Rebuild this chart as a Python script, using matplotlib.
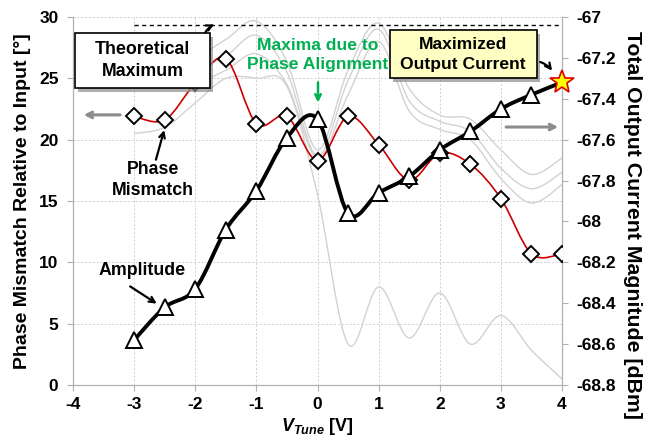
import numpy as np
import matplotlib
matplotlib.use("Agg")
from matplotlib import pyplot as plt
from matplotlib.path import Path
import matplotlib.patches as patches

plt.rcParams['font.family'] = ['Liberation Sans', 'DejaVu Sans']
plt.rcParams['font.weight'] = 'bold'
plt.rcParams['axes.unicode_minus'] = False
plt.rcParams['mathtext.fontset'] = 'custom'
plt.rcParams['mathtext.it'] = 'Liberation Sans:italic:bold'
plt.rcParams['mathtext.rm'] = 'Liberation Sans:bold'

# data
v_tune = [-3, -2.5, -2, -1.5, -1, -0.5, 0, 0.5, 1, 1.5, 2, 2.5, 3, 3.5, 4]
phase_mismatch = [21.9, 21.6, 24.6, 26.6, 21.3, 21.9, 18.3, 21.9, 19.6, 16.7, 18.9, 18.0, 15.2, 10.7, 10.7]
amplitude = [-68.58, -68.42, -68.33, -68.04, -67.85, -67.59, -67.50, -67.96, -67.86, -67.78, -67.65, -67.56, -67.45, -67.38, -67.32]
# faint background traces (right axis)
trace_1 = [-67.57, -67.54, -67.42, -67.30, -67.30, -67.34, -67.87, -68.60, -68.32, -68.57, -68.35, -68.60, -68.46, -68.63, -68.77]
trace_2 = [-67.10, -67.14, -67.19, -67.11, -67.02, -67.22, -67.65, -67.26, -67.03, -67.35, -67.48, -67.50, -67.65, -67.77, -67.69]
trace_3 = [-67.16, -67.20, -67.25, -67.19, -67.09, -67.27, -67.68, -67.31, -67.06, -67.41, -67.51, -67.56, -67.74, -67.84, -67.76]
trace_4 = [-67.22, -67.27, -67.32, -67.26, -67.18, -67.33, -67.69, -67.38, -67.12, -67.46, -67.55, -67.60, -67.79, -67.91, -67.82]
theory_max = -67.04

x_ticks = [-4, -3, -2, -1, 0, 1, 2, 3, 4]
left_ticks = [0, 5, 10, 15, 20, 25, 30]
right_ticks = [-68.8, -68.6, -68.4, -68.2, -68, -67.8, -67.6, -67.4, -67.2, -67]


def smooth_path(x, y):
    # excel-like smoothed line (catmull-rom as cubic bezier)
    pts = np.column_stack([x, y]).astype(float)
    n = len(pts)
    verts = [pts[0]]
    codes = [Path.MOVETO]
    for i in range(n - 1):
        p0 = pts[i - 1] if i > 0 else pts[i]
        p1, p2 = pts[i], pts[i + 1]
        p3 = pts[i + 2] if i + 2 < n else pts[i + 1]
        verts += [p1 + (p2 - p0) / 6, p2 - (p3 - p1) / 6, p2]
        codes += [Path.CURVE4] * 3
    return Path(verts, codes)


fig = plt.figure(figsize=(6.48, 4.36), dpi=100)
ax = fig.add_axes([0.1127, 0.117, 0.7546, 0.844])
ax2 = ax.twinx()

ax.set_xlim(-4, 4)
ax.set_ylim(0, 30)
ax2.set_ylim(-68.8, -67)
ax.set_xticks(x_ticks)
ax.set_yticks(left_ticks)
ax2.set_yticks(right_ticks)
ax2.set_yticklabels([f"{t:g}" for t in right_ticks])

ax.grid(True, color='#d0d0d0', linestyle=(0, (2, 2)), linewidth=0.7)
for a in (ax, ax2):
    for s in a.spines.values():
        s.set_color('#b0b0b0')
    a.spines['top'].set_visible(False)
    a.tick_params(colors='#b0b0b0', labelcolor='black', labelsize=12.5, length=4, pad=6.5)
ax.tick_params(axis='x', pad=5)

# background traces
for tr in (trace_1, trace_2, trace_3, trace_4):
    ax2.add_patch(patches.PathPatch(smooth_path(v_tune, tr), fill=False,
                                    edgecolor='#d2d2d2', lw=1.0, zorder=1))

ax2.plot([v_tune[0], v_tune[-1]], [theory_max, theory_max], color='black',
         ls=(0, (3, 2.5)), lw=1.0, zorder=2)

# phase mismatch (left axis scale, drawn in ax2 for stacking)
ax2.add_patch(patches.PathPatch(smooth_path(v_tune, phase_mismatch), fill=False,
                                edgecolor='#cc0000', lw=1.2, zorder=3,
                                transform=ax.transData))
ax2.plot(v_tune, phase_mismatch, ls='none', marker='D', ms=8.5, mfc='white',
         mec='black', mew=1.4, zorder=4, transform=ax.transData)

# amplitude
ax2.add_patch(patches.PathPatch(smooth_path(v_tune, amplitude), fill=False,
                                edgecolor='black', lw=2.8, zorder=5,
                                capstyle='round', joinstyle='round'))
ax2.plot(v_tune[:-1], amplitude[:-1], ls='none', marker='^', ms=12, mfc='white',
         mec='black', mew=1.4, zorder=6)
ax2.plot(v_tune[-1], amplitude[-1], ls='none', marker='*', ms=18, mfc='#ffff00',
         mec='#dd0000', mew=1.2, zorder=7, clip_on=False)

# labels
ax.set_xlabel(r'$V_{Tune}$ [V]', fontsize=13, fontweight='bold', va='center')
ax.xaxis.set_label_coords(0.5, -0.113)
ax.set_ylabel('Phase Mismatch Relative to Input [°]', fontsize=14,
              fontweight='bold', va='center')
ax.yaxis.set_label_coords(-0.104, 0.5)
ax2.set_ylabel('Total Output Current Magnitude [dBm]', fontsize=15.3,
               fontweight='bold', rotation=270, va='center')
ax2.yaxis.set_label_coords(1.145, 0.435)

# boxes
ax2.add_patch(patches.Rectangle((0.010, 0.797), 0.276, 0.149, transform=ax.transAxes,
                                facecolor='#8c8c8c', edgecolor='none', zorder=8, alpha=0.7))
ax2.add_patch(patches.Rectangle((0.004, 0.807), 0.276, 0.149, transform=ax.transAxes,
                                facecolor='white', edgecolor='black', lw=1.2, zorder=9))
ax2.text(0.142, 0.881, 'Theoretical\nMaximum', transform=ax.transAxes, ha='center',
         va='center', fontsize=12.8, linespacing=1.4, zorder=10)

ax2.add_patch(patches.Rectangle((0.654, 0.824), 0.301, 0.130, transform=ax.transAxes,
                                facecolor='#8c8c8c', edgecolor='none', zorder=8, alpha=0.7))
ax2.add_patch(patches.Rectangle((0.648, 0.834), 0.301, 0.130, transform=ax.transAxes,
                                facecolor='#ffffc4', edgecolor='black', lw=1.2, zorder=9))
ax2.text(0.798, 0.899, 'Maximized\nOutput Current', transform=ax.transAxes, ha='center',
         va='center', fontsize=12.6, linespacing=1.4, zorder=10)

ax2.text(0.501, 0.897, 'Maxima due to\nPhase Alignment', transform=ax.transAxes,
         ha='center', va='center', fontsize=12.6, color='#00b050', linespacing=1.4, zorder=10)
ax2.annotate('', xy=(0.501, 0.760), xytext=(0.501, 0.830), xycoords='axes fraction',
             arrowprops=dict(arrowstyle='->', color='#00b050', lw=1.8), zorder=10)

ax2.annotate('', xy=(0.294, 0.983), xytext=(0.268, 0.952), xycoords='axes fraction',
             arrowprops=dict(arrowstyle='->', color='black', lw=1.6,
                             connectionstyle='arc3,rad=-0.2'), zorder=10)
ax2.annotate('', xy=(0.983, 0.848), xytext=(0.950, 0.880), xycoords='axes fraction',
             arrowprops=dict(arrowstyle='->', color='black', lw=1.6,
                             connectionstyle='arc3,rad=-0.2'), zorder=10)

ax2.text(0.164, 0.557, 'Phase\nMismatch', transform=ax.transAxes, ha='center',
         va='center', fontsize=12.8, linespacing=1.3, zorder=10)
ax2.annotate('', xy=(0.188, 0.700), xytext=(0.168, 0.605), xycoords='axes fraction',
             arrowprops=dict(arrowstyle='->', color='black', lw=1.6), zorder=10)

ax2.text(0.141, 0.310, 'Amplitude', transform=ax.transAxes, ha='center',
         va='center', fontsize=12.8, zorder=10)
ax2.annotate('', xy=(0.176, 0.217), xytext=(0.112, 0.272), xycoords='axes fraction',
             arrowprops=dict(arrowstyle='->', color='black', lw=1.6), zorder=10)

# axis direction arrows
ax2.annotate('', xy=(0.016, 0.734), xytext=(0.102, 0.734), xycoords='axes fraction',
             arrowprops=dict(arrowstyle='->', color='#8c8c8c', lw=2.2), zorder=10)
ax2.annotate('', xy=(0.998, 0.701), xytext=(0.880, 0.701), xycoords='axes fraction',
             arrowprops=dict(arrowstyle='->', color='#8c8c8c', lw=2.2), zorder=10)

fig.savefig('out.png', dpi=100)
